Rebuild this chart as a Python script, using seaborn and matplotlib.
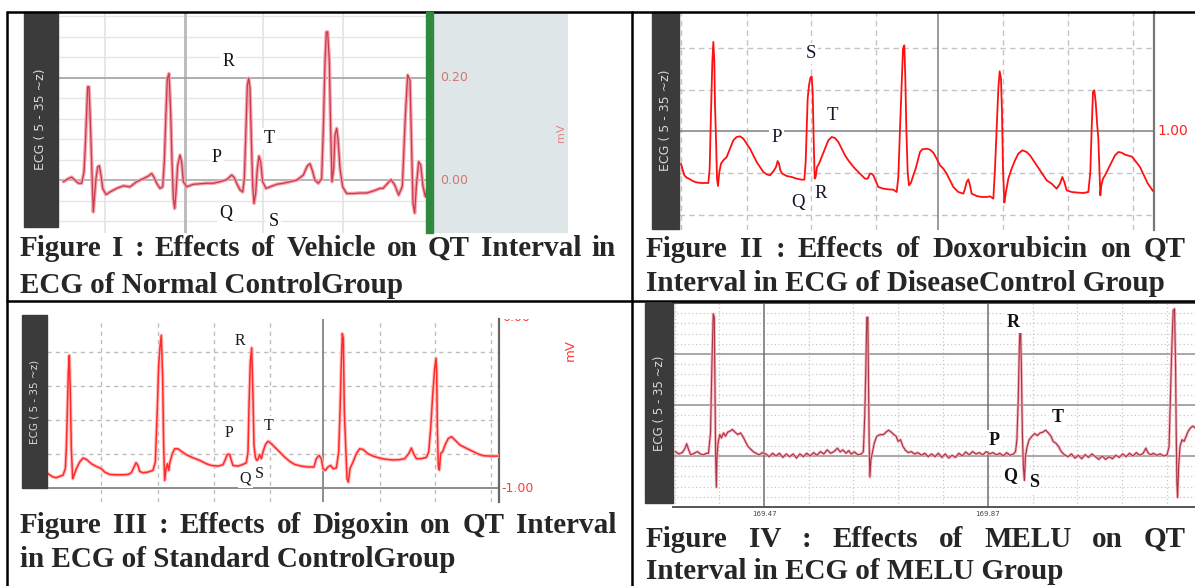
import matplotlib
matplotlib.use("Agg")
import matplotlib.pyplot as plt
import seaborn as sns
import pandas as pd
from matplotlib.patches import Rectangle
from matplotlib.lines import Line2D

W, H = 1195, 586

# ---- Figure I : vehicle (normal control), time in ms, voltage in mV
VEH_T = [40, 55, 65, 75, 85, 95, 102, 106, 110, 113, 117, 120, 124, 127, 130, 133, 138, 143, 148, 153,
         158, 168, 180, 200, 220, 240, 260, 280, 295, 305, 312, 320, 330, 338, 343, 348, 352, 357, 362, 366,
         370, 374, 378, 383, 390, 395, 400, 410, 430, 450, 470, 490, 510, 530, 545, 552, 560, 570, 578, 583,
         588, 592, 596, 600, 604, 608, 612, 617, 622, 627, 632, 638, 648, 660, 680, 700, 720, 740, 760, 772,
         780, 787, 795, 805, 815, 820, 825, 829, 833, 838, 842, 846, 851, 855, 860, 864, 870, 878, 890, 910,
         930, 950, 970, 990, 999, 1023, 1034, 1046, 1057, 1066, 1073, 1080, 1085, 1089, 1094, 1099, 1106,
         1112, 1119, 1126, 1131]
VEH_MV = [-0.003, 0.003, 0.006, 0.000, -0.006, -0.006, 0.016, 0.068, 0.133, 0.182, 0.182, 0.133, 0.055,
          -0.010, -0.062, -0.036, 0.003, 0.026, 0.028, 0.010, -0.016, -0.028, -0.023, -0.016, -0.011, -0.013,
          -0.003, 0.003, 0.008, 0.013, 0.006, -0.006, -0.016, -0.013, 0.036, 0.133, 0.198, 0.208, 0.133,
          0.036, -0.036, -0.055, -0.023, 0.029, 0.049, 0.036, -0.003, -0.013, -0.008, -0.007, -0.006, -0.006,
          -0.003, 0.001, 0.010, 0.006, -0.006, -0.019, -0.023, 0.003, 0.101, 0.185, 0.199, 0.179, 0.081,
          -0.010, -0.045, -0.026, 0.023, 0.047, 0.036, -0.003, -0.016, -0.013, -0.008, -0.006, -0.003, 0.000,
          0.010, 0.028, 0.032, 0.019, 0.000, -0.006, 0.003, 0.101, 0.231, 0.289, 0.289, 0.231, 0.101, -0.003,
          0.023, 0.088, 0.101, 0.081, 0.023, -0.013, -0.026, -0.026, -0.025, -0.025, -0.021, -0.016, -0.016,
          0.001, -0.009, -0.029, -0.012, 0.124, 0.205, 0.195, 0.059, -0.045, -0.064, -0.012, 0.036, 0.030,
          -0.012, -0.032, -0.019]
VEH_WAVES = ["R", "T", "P", "Q", "S"]
VEH_WAVE_T = [535, 657, 500, 527, 670]
VEH_WAVE_MV = [0.231, 0.081, 0.045, -0.065, -0.081]

# ---- Figure II : doxorubicin (disease control)
DOX_T = [48, 52, 58, 65, 72, 80, 90, 100, 110, 120, 130, 134, 138, 142, 145, 148, 150, 153, 156, 159, 163,
         168, 175, 185, 195, 205, 215, 225, 235, 245, 255, 265, 275, 285, 295, 305, 315, 325, 333, 338, 342,
         346, 352, 365, 380, 395, 410, 418, 422, 425, 428, 432, 436, 440, 443, 446, 449, 452, 456, 462, 470,
         480, 490, 500, 510, 520, 530, 540, 550, 560, 570, 580, 590, 600, 608, 615, 620, 625, 630, 640, 655,
         670, 685, 695, 700, 705, 710, 714, 718, 721, 724, 728, 732, 738, 745, 752, 760, 765, 772, 785, 795,
         805, 815, 825, 835, 845, 855, 865, 880, 895, 900, 905, 910, 915, 920, 935, 950, 965, 975, 985, 990,
         995, 1000, 1004, 1008, 1011, 1014, 1018, 1022, 1030, 1040, 1050, 1060, 1072, 1085, 1095, 1105, 1115,
         1125, 1135, 1145, 1160, 1175, 1185, 1192, 1198, 1205, 1220, 1240, 1255, 1270, 1276, 1280, 1284, 1288,
         1292, 1296, 1300, 1303, 1306, 1309, 1314, 1320, 1330, 1340, 1350, 1360, 1370, 1380, 1401, 1425, 1448,
         1464]
DOX_MV = [0.806, 0.776, 0.736, 0.722, 0.716, 0.706, 0.696, 0.692, 0.690, 0.690, 0.690, 0.776, 1.116, 1.416,
          1.536, 1.416, 1.156, 0.956, 0.716, 0.672, 0.756, 0.806, 0.826, 0.846, 0.896, 0.946, 0.966, 0.970,
          0.956, 0.926, 0.896, 0.856, 0.816, 0.786, 0.756, 0.742, 0.736, 0.760, 0.786, 0.822, 0.806, 0.766,
          0.746, 0.732, 0.726, 0.716, 0.710, 0.710, 0.816, 1.016, 1.196, 1.276, 1.320, 1.330, 1.236, 0.956,
          0.716, 0.726, 0.786, 0.806, 0.846, 0.896, 0.946, 0.966, 0.960, 0.936, 0.896, 0.856, 0.826, 0.800,
          0.776, 0.756, 0.736, 0.716, 0.716, 0.746, 0.746, 0.736, 0.712, 0.666, 0.656, 0.652, 0.650, 0.636,
          0.726, 1.016, 1.276, 1.496, 1.516, 1.316, 1.016, 0.756, 0.676, 0.692, 0.736, 0.776, 0.836, 0.876,
          0.892, 0.896, 0.890, 0.872, 0.836, 0.796, 0.776, 0.746, 0.706, 0.666, 0.636, 0.626, 0.656, 0.696,
          0.712, 0.676, 0.626, 0.612, 0.606, 0.606, 0.610, 0.596, 0.776, 1.016, 1.256, 1.360, 1.316, 1.116,
          0.776, 0.572, 0.626, 0.716, 0.776, 0.826, 0.866, 0.886, 0.876, 0.856, 0.826, 0.796, 0.766, 0.736,
          0.706, 0.686, 0.656, 0.686, 0.726, 0.696, 0.646, 0.636, 0.632, 0.630, 0.636, 0.756, 1.016, 1.236,
          1.246, 1.176, 1.056, 0.956, 0.776, 0.616, 0.676, 0.716, 0.736, 0.776, 0.816, 0.856, 0.876, 0.872,
          0.860, 0.848, 0.786, 0.688, 0.642]
DOX_WAVES = ["S", "T", "P", "Q", "R"]
DOX_WAVE_T = [438, 502, 335, 400, 467]
DOX_WAVE_MV = [1.466, 1.096, 0.966, 0.576, 0.626]

# ---- Figure III : digoxin (standard control)
DIG_T = [27, 35, 45, 55, 65, 75, 82, 85, 88, 91, 94, 97, 100, 104, 108, 115, 125, 135, 145, 160, 175, 190,
         200, 215, 235, 255, 270, 280, 288, 294, 300, 305, 315, 330, 345, 352, 358, 362, 366, 370, 374, 377,
         380, 384, 388, 392, 396, 403, 410, 420, 430, 445, 465, 485, 505, 520, 540, 555, 563, 568, 575, 580,
         585, 600, 615, 625, 630, 633, 637, 641, 645, 648, 652, 656, 660, 665, 670, 675, 682, 690, 700, 710,
         725, 740, 755, 770, 790, 810, 828, 835, 843, 850, 855, 862, 870, 878, 885, 895, 902, 906, 910, 913,
         916, 919, 923, 927, 931, 936, 945, 955, 965, 975, 990, 1005, 1025, 1045, 1065, 1085, 1100, 1112,
         1120, 1127, 1135, 1150, 1165, 1172, 1178, 1184, 1190, 1194, 1196, 1198, 1201, 1204, 1208, 1214,
         1221, 1231, 1241, 1251, 1266, 1286, 1306, 1321, 1336, 1356, 1381]
DIG_MV = [-0.912, -0.922, -0.935, -0.939, -0.931, -0.925, -0.886, -0.769, -0.553, -0.318, -0.220, -0.435,
          -0.769, -0.945, -0.925, -0.886, -0.847, -0.824, -0.831, -0.857, -0.873, -0.886, -0.906, -0.920,
          -0.922, -0.922, -0.920, -0.910, -0.876, -0.851, -0.867, -0.902, -0.910, -0.906, -0.896, -0.847,
          -0.533, -0.278, -0.171, -0.102, -0.357, -0.749, -0.955, -0.886, -0.857, -0.896, -0.847, -0.798,
          -0.769, -0.769, -0.784, -0.804, -0.822, -0.837, -0.857, -0.867, -0.871, -0.863, -0.827, -0.802,
          -0.802, -0.837, -0.867, -0.871, -0.861, -0.851, -0.788, -0.514, -0.259, -0.176, -0.465, -0.749,
          -0.818, -0.837, -0.831, -0.804, -0.827, -0.788, -0.745, -0.725, -0.739, -0.759, -0.788, -0.818,
          -0.843, -0.861, -0.871, -0.876, -0.876, -0.827, -0.808, -0.827, -0.886, -0.896, -0.876, -0.867,
          -0.886, -0.882, -0.788, -0.553, -0.259, -0.092, -0.122, -0.553, -0.749, -0.945, -0.965, -0.886,
          -0.847, -0.798, -0.769, -0.773, -0.798, -0.812, -0.824, -0.831, -0.835, -0.833, -0.827, -0.798,
          -0.765, -0.798, -0.827, -0.827, -0.820, -0.788, -0.651, -0.455, -0.298, -0.237, -0.316, -0.639,
          -0.875, -0.894, -0.796, -0.786, -0.747, -0.708, -0.698, -0.718, -0.747, -0.767, -0.786, -0.800,
          -0.810, -0.812, -0.812]
DIG_WAVES = ["R", "P", "T", "Q", "S"]
DIG_WAVE_T = [605, 573, 692, 622, 665]
DIG_WAVE_MV = [-0.137, -0.675, -0.635, -0.941, -0.916]

# ---- Figure IV : MELU group, time in samples
MELU_T = [45, 55, 65, 72, 78, 84, 90, 100, 110, 118, 128, 135, 142, 148, 152, 156, 159, 161, 163, 165, 167,
          170, 175, 180, 186, 192, 198, 205, 212, 220, 228, 236, 244, 250, 258, 266, 274, 282, 290, 300, 310,
          320, 330, 340, 350, 360, 370, 380, 390, 400, 410, 420, 430, 440, 450, 460, 470, 480, 490, 500, 510,
          520, 528, 536, 545, 553, 560, 570, 580, 590, 596, 600, 603, 606, 609, 611, 613, 615, 618, 622, 628,
          635, 645, 655, 662, 670, 678, 685, 692, 698, 705, 712, 720, 728, 736, 746, 756, 766, 776, 786, 796,
          806, 816, 826, 836, 846, 856, 866, 876, 886, 896, 906, 916, 926, 936, 946, 956, 966, 976, 986, 996,
          1006, 1016, 1026, 1036, 1042, 1046, 1050, 1053, 1056, 1059, 1062, 1065, 1068, 1071, 1076, 1082,
          1090, 1098, 1106, 1114, 1122, 1130, 1138, 1146, 1152, 1160, 1168, 1176, 1186, 1196, 1206, 1216,
          1226, 1236, 1246, 1256, 1266, 1276, 1286, 1296, 1306, 1316, 1326, 1336, 1346, 1356, 1366, 1376,
          1386, 1396, 1406, 1416, 1424, 1430, 1438, 1446, 1456, 1466, 1476, 1486, 1492, 1496, 1500, 1504,
          1508, 1511, 1513, 1515, 1517, 1520, 1524, 1530, 1536, 1542, 1548, 1555, 1562, 1568]
MELU_MV = [0.026, 0.012, 0.020, 0.040, 0.072, 0.036, 0.006, 0.016, 0.026, 0.012, 0.006, 0.016, 0.016,
           0.136, 0.536, 0.836, 0.816, 0.436, -0.004, -0.184, -0.004, 0.076, 0.126, 0.106, 0.136, 0.116,
           0.140, 0.146, 0.156, 0.140, 0.126, 0.136, 0.110, 0.086, 0.056, 0.040, 0.024, 0.016, 0.006, 0.020,
           0.012, -0.004, 0.016, 0.000, 0.016, -0.008, 0.012, -0.004, 0.012, -0.012, 0.012, -0.004, 0.016,
           0.000, 0.020, 0.004, 0.026, 0.012, 0.036, 0.016, 0.026, 0.046, 0.024, 0.036, 0.016, 0.032, 0.012,
           0.024, 0.006, 0.012, 0.026, 0.236, 0.496, 0.816, 0.816, 0.436, 0.076, -0.124, -0.024, 0.016, 0.076,
           0.116, 0.126, 0.126, 0.140, 0.152, 0.140, 0.126, 0.116, 0.086, 0.096, 0.056, 0.032, 0.020, 0.026,
           0.012, 0.020, 0.004, 0.016, -0.004, 0.012, -0.004, 0.016, -0.008, 0.012, -0.012, 0.004, -0.008,
           0.016, 0.000, 0.024, 0.006, 0.026, 0.012, 0.020, 0.006, 0.026, 0.012, 0.020, 0.006, 0.016, 0.000,
           0.020, 0.004, 0.012, 0.026, 0.096, 0.336, 0.636, 0.812, 0.536, 0.136, -0.064, -0.144, -0.004,
           0.056, 0.096, 0.116, 0.132, 0.120, 0.136, 0.140, 0.152, 0.136, 0.116, 0.086, 0.076, 0.056, 0.026,
           0.006, -0.004, 0.012, -0.012, 0.004, -0.016, 0.008, -0.008, 0.012, -0.004, -0.020, 0.000, -0.020,
           -0.004, -0.016, 0.004, -0.008, 0.012, -0.004, 0.016, 0.000, 0.020, 0.004, 0.016, 0.046, 0.020,
           0.006, 0.016, 0.004, 0.012, 0.000, 0.006, 0.056, 0.336, 0.636, 0.856, 0.866, 0.536, 0.136, -0.164,
           -0.244, -0.064, 0.056, 0.096, 0.086, 0.116, 0.146, 0.166, 0.176, 0.166]
MELU_WAVES = ["R", "T", "P", "Q", "S"]
MELU_WAVE_T = [1035, 1165, 978, 1025, 1095]
MELU_WAVE_MV = [0.786, 0.226, 0.092, -0.114, -0.154]
MELU_TICK_POS = [305, 961]
MELU_TICK_LABELS = ["169.47", "169.87"]

CAPTIONS = [
    ("Figure I : Effects of Vehicle on QT Interval in", "ECG of Normal ControlGroup"),
    ("Figure II : Effects of Doxorubicin on QT", "Interval in ECG of DiseaseControl Group"),
    ("Figure III : Effects of Digoxin on QT Interval", "in ECG of Standard ControlGroup"),
    ("Figure IV : Effects of MELU on QT", "Interval in ECG of MELU Group"),
]
ECG_LABEL = "ECG ( 5 - 35 ~z)"

sns.set_theme(style="white")
plt.rcParams["font.family"] = ["DejaVu Sans"]
SERIF = "Liberation Serif"

fig = plt.figure(figsize=(W / 100, H / 100), dpi=100)
fig.patch.set_facecolor("white")


def box(x0, y0, x1, y1):
    return [x0 / W, 1 - y1 / H, (x1 - x0) / W, (y1 - y0) / H]


def panel(x0, y0, x1, y1, xlim, ylim):
    ax = fig.add_axes(box(x0, y0, x1, y1))
    ax.set_xlim(*xlim)
    ax.set_ylim(*ylim)
    ax.set_xticks([])
    ax.set_yticks([])
    ax.set_facecolor("white")
    for s in ax.spines.values():
        s.set_visible(False)
    return ax


def trace(ax, t, mv, color, lw, halo=None):
    df = pd.DataFrame({"t": t, "mV": mv})
    if halo:
        sns.lineplot(data=df, x="t", y="mV", ax=ax, color=halo[0], linewidth=halo[1],
                     estimator=None, sort=False, zorder=3)
    sns.lineplot(data=df, x="t", y="mV", ax=ax, color=color, linewidth=lw,
                 estimator=None, sort=False, zorder=4)
    ax.set_xlabel("")
    ax.set_ylabel("")


def waves(ax, names, ts, mvs, size, weight="normal", color="#111111"):
    for n, t, v in zip(names, ts, mvs):
        ax.text(t, v, n, ha="center", va="center", fontsize=size, fontweight=weight,
                family=SERIF, color=color, zorder=5,
                bbox=dict(fc="white", ec="none", pad=1.5))


def side_bar(x0, y0, x1, y1, size):
    fig.add_artist(Rectangle((x0 / W, 1 - y1 / H), (x1 - x0) / W, (y1 - y0) / H,
                             transform=fig.transFigure, color="#3b3b3b", zorder=1))
    fig.text((x0 + x1) / 2 / W, 1 - (y0 + y1) / 2 / H, ECG_LABEL, rotation=90,
             ha="center", va="center", fontsize=size, color="#d8d8d8", zorder=2)


def hline(x0, x1, y, lw=1.8):
    fig.add_artist(Line2D([x0 / W, x1 / W], [1 - y / H, 1 - y / H], color="black", lw=lw))


def vline(x, y0, y1, lw=1.8):
    fig.add_artist(Line2D([x / W, x / W], [1 - y0 / H, 1 - y1 / H], color="black", lw=lw))


def caption(x0, x1, y, text, justify):
    if not justify:
        fig.text(x0 / W, 1 - y / H, text, fontsize=21, fontweight="bold", family=SERIF,
                 va="baseline", ha="left")
        return
    words = text.split(" ")
    objs = [fig.text(0, 1 - y / H, w, fontsize=21, fontweight="bold", family=SERIF,
                     va="baseline", ha="left") for w in words]
    r = fig.canvas.get_renderer()
    widths = [o.get_window_extent(r).width for o in objs]
    gap = (x1 - x0 - sum(widths)) / (len(words) - 1)
    x = x0
    for o, w in zip(objs, widths):
        o.set_x(x / W)
        x += w + gap


# ---------------- Figure I
ax1 = panel(59, 12, 427, 233, (27, 1131), (-0.103, 0.328))
for v in [-0.08, -0.04, 0.04, 0.08, 0.12, 0.16, 0.24, 0.28, 0.32]:
    ax1.axhline(v, color="#e6e6e6", lw=1.0, zorder=1)
for v in [165, 640, 880]:
    ax1.axvline(v, color="#e3e3e3", lw=1.2, zorder=1)
ax1.axvline(405, color="#b9b9b9", lw=2.0, zorder=1)
ax1.axhline(0.0, color="#a9a9a9", lw=1.2, zorder=1)
ax1.axhline(0.20, color="#a0a0a0", lw=1.2, zorder=1)
trace(ax1, VEH_T, VEH_MV, "#c83a4c", 0.9, halo=("#f4a6ae", 2.6))
waves(ax1, VEH_WAVES, VEH_WAVE_T, VEH_WAVE_MV, 13)

ax1r = panel(432, 12, 568, 233, (0, 1), (-0.103, 0.328))
ax1r.set_facecolor("#dfe6e8")
for v in [0.20, 0.0]:
    ax1r.text(0.06, v, f"{v:.2f}", va="center", ha="left", fontsize=9, color="#d47474")
ax1r.text(0.945, 0.092, "mV", rotation=90, va="center", ha="center", fontsize=8, color="#dc8a8a")
fig.add_artist(Rectangle((426 / W, 1 - 233 / H), 7 / W, 221 / H, transform=fig.transFigure,
                         color="#2f8a3f", zorder=6))
side_bar(24, 12, 58, 227, 9)

# ---------------- Figure II
ax2 = panel(679, 12, 1154, 230, (42, 1467), (0.408, 1.716))
for v in [0.5, 0.75, 1.25, 1.5]:
    ax2.axhline(v, color="#c4c4c4", lw=1.0, ls=(0, (4, 3)), zorder=1)
for v in [48, 245, 438, 633, 1015, 1208, 1403]:
    ax2.axvline(v, color="#c4c4c4", lw=1.0, ls=(0, (4, 3)), zorder=1)
ax2.axvline(820, color="#8a8a8a", lw=1.2, zorder=1)
ax2.axhline(1.0, color="#8a8a8a", lw=1.2, zorder=1)
ax2.spines["right"].set_visible(True)
ax2.spines["right"].set_color("#777777")
ax2.spines["right"].set_linewidth(1.6)
trace(ax2, DOX_T, DOX_MV, "#ff1010", 1.3)
waves(ax2, DOX_WAVES, DOX_WAVE_T, DOX_WAVE_MV, 13.5, color="#14142a")
ax2.text(1.008, 1.0, "1.00", transform=ax2.get_yaxis_transform(), va="center", ha="left",
         fontsize=10, color="#ff2020")
side_bar(652, 12, 679, 229, 9)

# ---------------- Figure III
ax3 = panel(47, 319, 499, 502, (27, 1383), (-1.082, -0.006))
for v in [-0.2, -0.4, -0.6, -0.8]:
    ax3.axhline(v, color="#bdbdbd", lw=1.0, ls=(0, (3, 3)), zorder=1)
for v in [190, 360, 527, 695, 1025, 1192, 1358]:
    ax3.axvline(v, color="#bdbdbd", lw=1.0, ls=(0, (3, 3)), zorder=1)
ax3.axvline(855, color="#8c8c8c", lw=1.4, zorder=1)
ax3.axhline(-1.0, color="#8c8c8c", lw=1.4, zorder=1)
ax3.spines["right"].set_visible(True)
ax3.spines["right"].set_color("#666666")
ax3.spines["right"].set_linewidth(1.6)
trace(ax3, DIG_T, DIG_MV, "#ff2a2a", 1.1, halo=("#ffc0c0", 2.6))
waves(ax3, DIG_WAVES, DIG_WAVE_T, DIG_WAVE_MV, 11.5, color="#1a1a1a")
ax3.text(1.006, -1.0, "-1.00", transform=ax3.get_yaxis_transform(), va="center", ha="left",
         fontsize=9, color="#ff3b3b")
ax3r = panel(499, 319, 545, 502, (0, 1), (-1.082, -0.006))
ax3r.patch.set_alpha(0)
ax3r.text(0.06, 0.004, "0.00", va="center", ha="left", fontsize=9, color="#ff3b3b", clip_on=True)
fig.text(570 / W, 1 - 350 / H, "mV", rotation=90, va="center", ha="center", fontsize=9.5,
         color="#ff3b3b")
side_bar(22, 315, 47, 488, 7.5)

# ---------------- Figure IV
ax4 = panel(673, 303, 1195, 507, (38, 1568), (-0.3, 0.9))
for k in range(1, 20):
    v = -0.3 + 0.06 * k
    if abs(v / 0.3 - round(v / 0.3)) > 1e-6:
        ax4.axhline(v, color="#c8c8c8", lw=0.9, ls=(0, (1, 2)), zorder=1)
for v in [43, 174, 436, 567, 698, 830, 1092, 1223, 1354, 1486]:
    ax4.axvline(v, color="#c8c8c8", lw=0.9, ls=(0, (1, 2)), zorder=1)
for v in [0.0, 0.3, 0.6]:
    ax4.axhline(v, color="#8f8f8f", lw=1.1, zorder=1)
for v in MELU_TICK_POS:
    ax4.axvline(v, color="#6f6f6f", lw=1.1, zorder=1)
for side in ["top", "bottom"]:
    ax4.spines[side].set_visible(True)
    ax4.spines[side].set_color("#555555")
    ax4.spines[side].set_linewidth(1.4)
ax4.set_xticks(MELU_TICK_POS)
ax4.set_xticklabels(MELU_TICK_LABELS, fontsize=5, color="#444444")
ax4.tick_params(axis="x", length=0, pad=3)
trace(ax4, MELU_T, MELU_MV, "#a83444", 0.8, halo=("#f5b0b8", 2.0))
waves(ax4, MELU_WAVES, MELU_WAVE_T, MELU_WAVE_MV, 13, weight="bold", color="#111111")
side_bar(645, 303, 673, 503, 8.5)

# ---------------- table rules and captions
hline(7, 1195, 12)
hline(7, 1195, 301)
vline(7, 12, 586)
vline(632, 12, 586)

caption(20, 616, 256, CAPTIONS[0][0], True)
caption(20, 616, 293, CAPTIONS[0][1], False)
caption(646, 1186, 257, CAPTIONS[1][0], True)
caption(646, 1186, 291, CAPTIONS[1][1], False)
caption(20, 616, 533, CAPTIONS[2][0], True)
caption(20, 616, 567, CAPTIONS[2][1], False)
caption(646, 1186, 547, CAPTIONS[3][0], True)
caption(646, 1186, 579, CAPTIONS[3][1], False)

fig.savefig("out.png", dpi=100, facecolor="white")
